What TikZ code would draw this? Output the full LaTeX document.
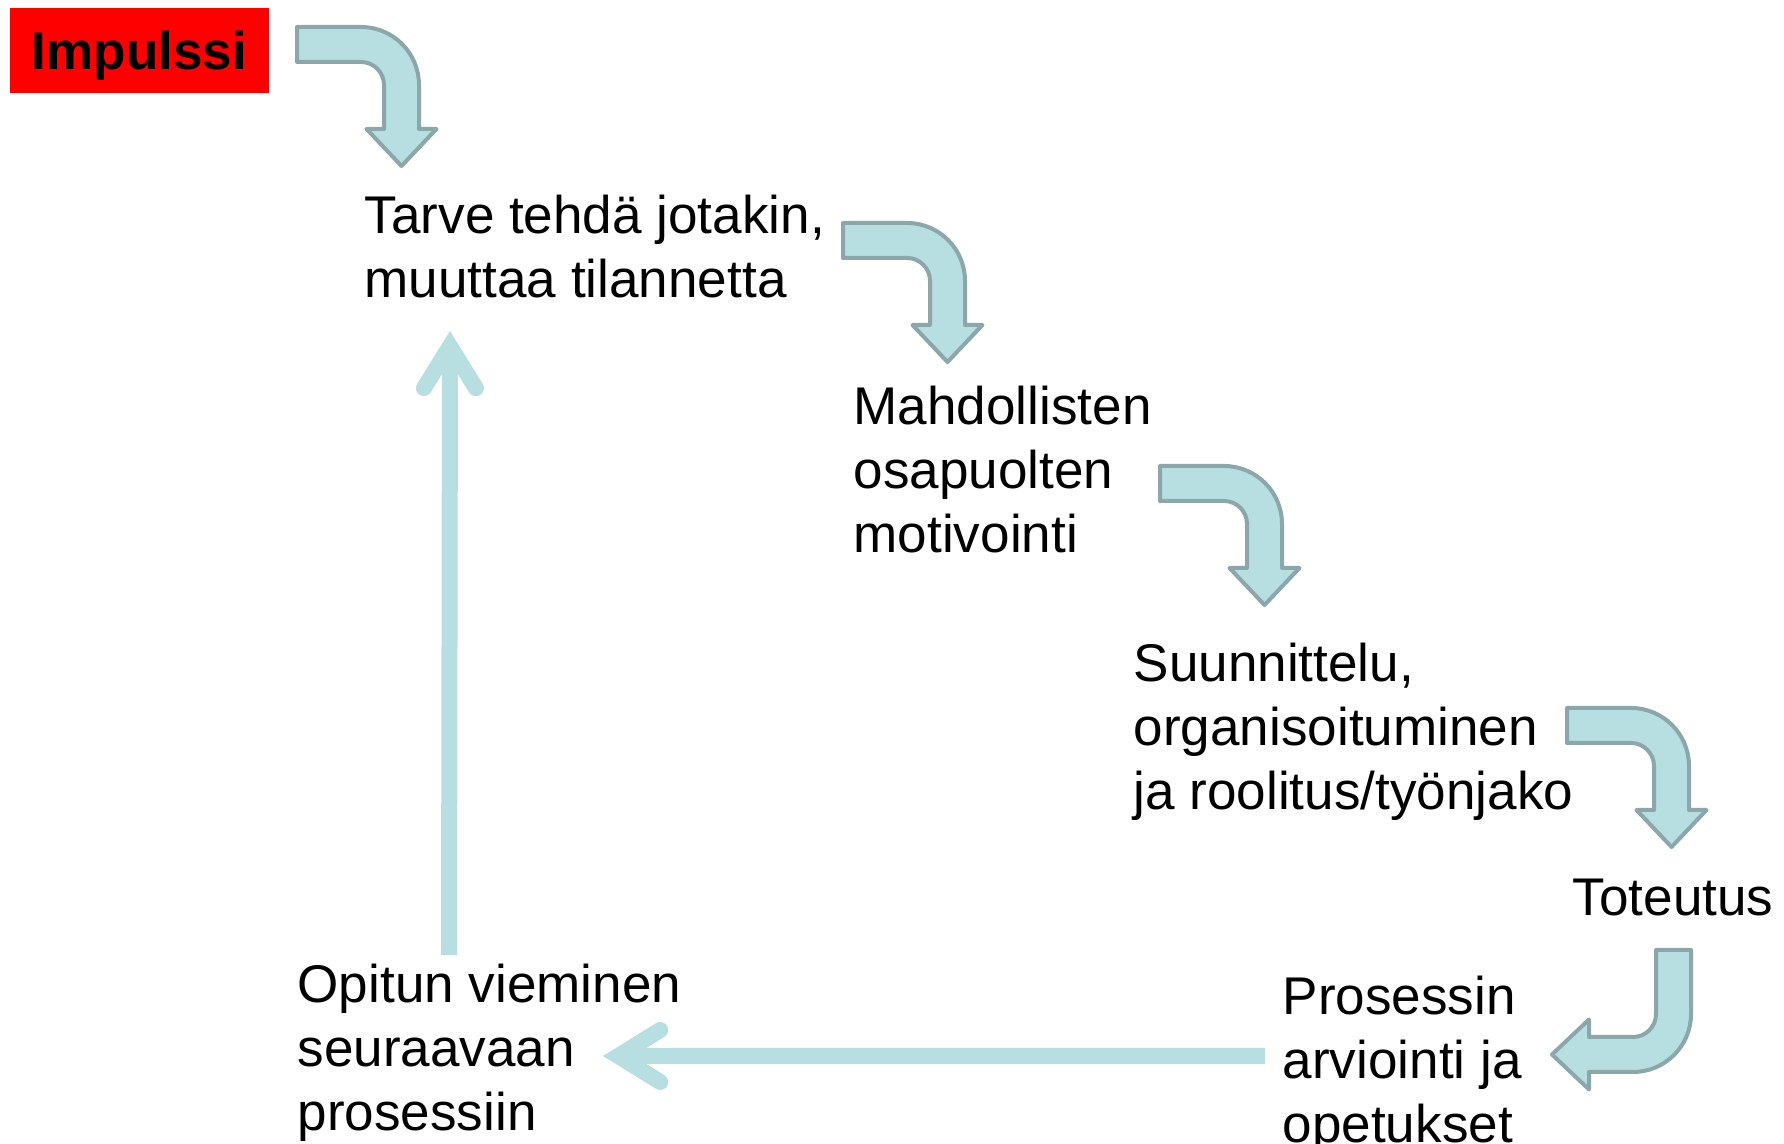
\documentclass[tikz,border=0pt]{standalone}
\usepackage{fontspec}
\setmainfont{Liberation Sans}
\usetikzlibrary{arrows.meta,calc}
\definecolor{arrowfill}{RGB}{183,222,225}
\definecolor{arrowline}{RGB}{139,167,170}

\begin{document}
\begin{tikzpicture}[
    every node/.style={inner sep=0pt, font=\fontsize{15.1pt}{18.3pt}\selectfont},
    phase/.style={anchor=base west, align=left},
    impulse/.style={fill=red, minimum width=2.59cm, minimum height=0.85cm,
        text height=0.39cm, text depth=0pt, font=\fontsize{15.1pt}{18.3pt}\selectfont\bfseries},
    blockarrow/.style={fill=arrowfill, draw=arrowline, line width=0.04cm, line join=round},
    flow/.style={draw=arrowfill, line width=0.16cm,
        -{Straight Barb[length=0.42cm, width=0.52cm, line cap=round, line join=miter]}},
    bentarrow/.pic={
        \draw[blockarrow] (-1.22,0) -- (-0.58,0) arc[start angle=90, end angle=0, radius=0.58]
            -- (0,-1.02) -- (0.175,-1.02) -- (-0.175,-1.39) -- (-0.525,-1.02) -- (-0.35,-1.02)
            -- (-0.35,-0.58) arc[start angle=0, end angle=90, radius=0.23] -- (-1.22,-0.35) -- cycle;
    }
]
    \useasboundingbox (0,0) rectangle (17.84,11.44);
    \node[impulse] (impulssi) at (1.395,10.935) {Impulssi};

    \node[phase] (tarve) at (3.64,8.46) {Tarve tehdä jotakin,\\muuttaa tilannetta};
    \node[phase] (motivointi) at (8.53,5.91) {Mahdollisten\\osapuolten\\motivointi};
    \node[phase] (suunnittelu) at (11.33,3.34) {Suunnittelu,\\organisoituminen\\ja roolitus/työnjako};
    \node[phase] (toteutus) at (15.72,2.28) {Toteutus};
    \node[phase] (arviointi) at (12.82,0.01) {Prosessin\\arviointi ja\\opetukset};
    \node[phase] (opitun) at (2.97,0.13) {Opitun vieminen\\seuraavaan\\prosessiin};

    \pic at (4.19,11.17) {bentarrow};
    \pic at (9.65,9.21) {bentarrow};
    \pic at (12.82,6.78) {bentarrow};
    \pic at (16.89,4.36) {bentarrow};
    \pic[rotate=-90] at (16.91,0.72) {bentarrow};

    \draw[flow] ($(arviointi.base west)+(-0.17,0.87)$) -- ($(opitun.base west)+(3.06,0.75)$);
    \draw[flow] ($(opitun.base west)+(1.52,1.76)$) -- ($(tarve.base west)+(0.86,-0.33)$);
\end{tikzpicture}
\end{document}
